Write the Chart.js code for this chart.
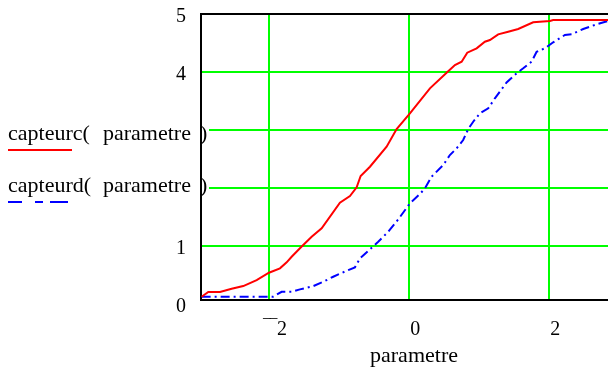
<!DOCTYPE html>
<html>
<head>
<meta charset="utf-8">
<script src="https://cdn.jsdelivr.net/npm/chart.js@4"></script>
<style>
  body { margin: 0; background: #fff; }
  canvas { display: block; }
</style>
</head>
<body>
<canvas id="capteurChart" width="608" height="370"></canvas>
<script>
// capteurc( parametre ) - red solid
const xc = [-2.966, -2.871, -2.704, -2.537, -2.371, -2.18, -2.004, -1.847, -1.751, -1.68, -1.547, -1.394, -1.251,
    -0.99, -0.847, -0.751, -0.694, -0.561, -0.323, -0.18, 0.01, 0.296, 0.534, 0.653, 0.749, 0.829, 0.963, 1.081,
    1.153, 1.271, 1.414, 1.557, 1.771, 2.01, 2.057, 2.84];
const yc = [0.126, 0.207, 0.207, 0.264, 0.31, 0.414, 0.54, 0.616, 0.719, 0.816, 0.978, 1.16, 1.305,
    1.747, 1.862, 2.012, 2.207, 2.367, 2.712, 3.017, 3.288, 3.719, 3.988, 4.121, 4.178, 4.333, 4.409, 4.522,
    4.552, 4.65, 4.695, 4.741, 4.857, 4.879, 4.897, 4.897];

// capteurd( parametre ) - blue dash-dot
const xd = [-2.966, -1.947, -1.823, -1.68, -1.561, -1.371, -1.229, -1.086, -0.871, -0.776, -0.704, -0.443, -0.3,
    -0.157, 0.01, 0.153, 0.224, 0.32, 0.486, 0.581, 0.677, 0.771, 0.843, 0.914, 1.01, 1.129, 1.224, 1.391,
    1.534, 1.629, 1.749, 1.82, 1.939, 2.057, 2.224, 2.32, 2.486, 2.677, 2.84];
const yd = [0.126, 0.126, 0.212, 0.212, 0.253, 0.31, 0.384, 0.471, 0.586, 0.633, 0.788, 1.074, 1.247,
    1.46, 1.736, 1.897, 1.995, 2.195, 2.397, 2.569, 2.684, 2.828, 3.017, 3.143, 3.288, 3.374, 3.547, 3.819,
    3.978, 4.064, 4.178, 4.35, 4.409, 4.512, 4.638, 4.65, 4.741, 4.822, 4.879];

const xTicks = [-2, 0, 2];
const yTicks = [0, 1, 2, 3, 4, 5];

const serif = "'Liberation Serif', 'Times New Roman', serif";
const green = '#00ff00';

// legend text drawn Mathcad-style over the y labels, plus axis title
const mathcadText = {
    id: 'mathcadText',
    afterDraw(chart) {
        const c = chart.ctx;
        const area = chart.chartArea;
        c.save();
        // top frame line
        c.strokeStyle = '#000';
        c.lineWidth = 2;
        c.beginPath();
        c.moveTo(area.left, area.top);
        c.lineTo(area.right, area.top);
        c.stroke();

        // white boxes behind legend text
        c.fillStyle = '#fff';
        c.fillRect(6, 122, 203, 23);
        c.fillRect(6, 175, 203, 21);
        c.beginPath();
        c.moveTo(area.left, 118);
        c.lineTo(area.left, 200);
        c.stroke();

        c.fillStyle = '#000';
        c.font = '22px ' + serif;
        c.textBaseline = 'alphabetic';
        c.fillText('capteurc(', 8, 140);
        c.fillText('parametre', 103, 140);
        c.fillText(')', 200, 140);
        c.fillText('capteurd(', 8, 192);
        c.fillText('parametre', 103, 192);
        c.fillText(')', 200, 192);

        c.strokeStyle = '#ff0000';
        c.lineWidth = 2;
        c.beginPath();
        c.moveTo(8, 150);
        c.lineTo(72, 150);
        c.stroke();

        c.strokeStyle = '#0000ff';
        c.setLineDash([14, 13, 8, 7, 18]);
        c.beginPath();
        c.moveTo(8, 202);
        c.lineTo(68, 202);
        c.stroke();
        c.setLineDash([]);

        // x axis title
        c.textAlign = 'center';
        c.fillText('parametre', 414, 362);
        c.restore();
    }
};

const ctx = document.getElementById('capteurChart').getContext('2d');
new Chart(ctx, {
    type: 'line',
    data: {
        datasets: [
            {
                label: 'capteurc( parametre )',
                data: xc.map((x, i) => ({ x: x, y: yc[i] })),
                borderColor: '#ff0000',
                borderWidth: 2,
                pointRadius: 0,
                fill: false,
                tension: 0
            },
            {
                label: 'capteurd( parametre)',
                data: xd.map((x, i) => ({ x: x, y: yd[i] })),
                borderColor: '#0000ff',
                borderWidth: 2,
                borderDash: [9, 4, 2, 4],
                pointRadius: 0,
                fill: false,
                tension: 0
            }
        ]
    },
    options: {
        responsive: false,
        devicePixelRatio: 1,
        animation: false,
        layout: { padding: { top: 14, left: 0, right: 0, bottom: 0 } },
        scales: {
            x: {
                type: 'linear',
                min: -2.975,
                max: 2.84,
                afterBuildTicks: scale => { scale.ticks = xTicks.map(v => ({ value: v })); },
                afterFit: scale => {
                    scale.height = 70;
                    scale.paddingLeft = 0;
                    scale.paddingRight = 0;
                },
                border: { display: true, color: '#000', width: 2 },
                grid: { color: green, lineWidth: 2, drawTicks: false },
                ticks: {
                    color: '#000',
                    font: { family: serif, size: 20 },
                    padding: 18,
                    labelOffset: 6,
                    maxRotation: 0,
                    callback: v => v < 0 ? '\u203E\u203E' + Math.abs(v) : String(v)
                }
            },
            y: {
                type: 'linear',
                min: 0.07,
                max: 5,
                afterBuildTicks: scale => { scale.ticks = yTicks.map(v => ({ value: v })); },
                afterFit: scale => {
                    scale.width = 201;
                    scale.paddingTop = 0;
                    scale.paddingBottom = 0;
                },
                border: { display: true, color: '#000', width: 2 },
                grid: {
                    color: c => (c.tick && c.tick.value === 0) ? 'rgba(0,0,0,0)' : green,
                    lineWidth: 2,
                    drawTicks: false
                },
                ticks: {
                    color: '#000',
                    font: { family: serif, size: 20 },
                    padding: 15,
                    labelOffset: 3
                }
            }
        },
        plugins: {
            legend: { display: false },
            tooltip: { enabled: false }
        }
    },
    plugins: [mathcadText]
});
</script>
</body>
</html>
